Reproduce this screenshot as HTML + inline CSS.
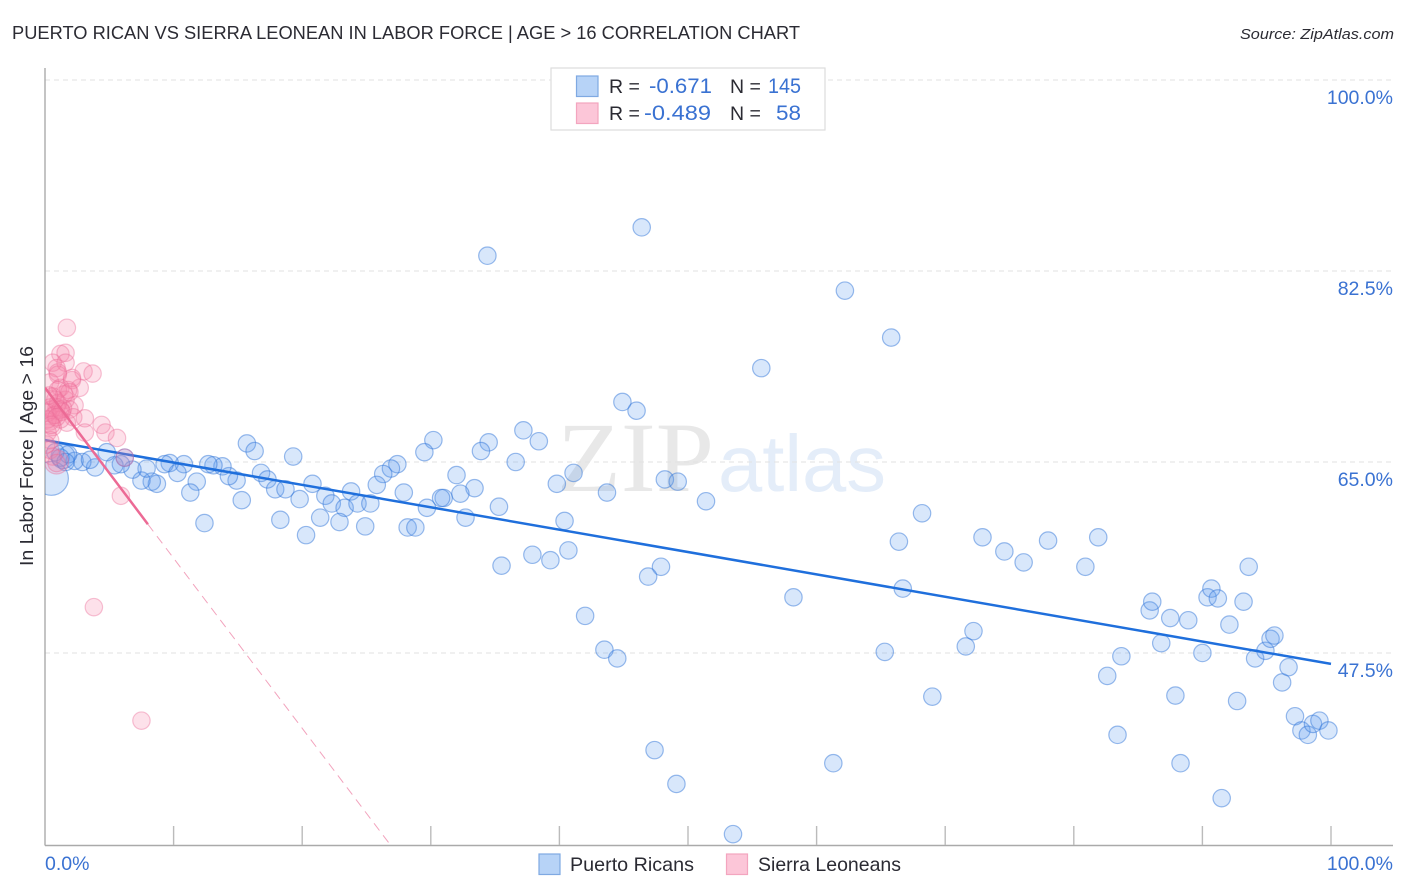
<!DOCTYPE html>
<html lang="en">
<head>
<meta charset="utf-8">
<title>Puerto Rican vs Sierra Leonean in Labor Force | Age > 16 Correlation Chart</title>
<style>
html,body{margin:0;padding:0;background:#fff;}
svg{display:block;font-family:"Liberation Sans",sans-serif;}
</style>
</head>
<body>
<svg id="chart" xmlns="http://www.w3.org/2000/svg" width="1406" height="892" viewBox="0 0 1406 892">
  <defs><clipPath id="plot-clip"><rect x="45" y="68" width="1348" height="777"></rect></clipPath></defs>
  <rect x="0" y="0" width="1406" height="892" fill="#ffffff"></rect>
  <text x="12" y="39" font-size="18.5" fill="#2b2b33" textLength="788" lengthAdjust="spacingAndGlyphs">PUERTO RICAN VS SIERRA LEONEAN IN LABOR FORCE | AGE &gt; 16 CORRELATION CHART</text>
  <text x="1394" y="39" font-size="15" font-style="italic" text-anchor="end" fill="#2b2b33" textLength="154" lengthAdjust="spacingAndGlyphs">Source: ZipAtlas.com</text>
  <g>
    <text x="557" y="491" font-family="'Liberation Serif',serif" font-size="100" fill="#e8e8e8" textLength="157" lengthAdjust="spacingAndGlyphs">ZIP</text>
    <text x="718" y="491" font-size="80" fill="#e4edf9" textLength="168" lengthAdjust="spacingAndGlyphs">atlas</text>
  </g>
  <g id="grid"></g>
  <g id="axes"></g>
  <g id="marks" clip-path="url(#plot-clip)"></g>
  <g id="labels"></g>
  <text transform="translate(33,566) rotate(-90)" font-size="18.5" fill="#2b2b33" textLength="220" lengthAdjust="spacingAndGlyphs">In Labor Force | Age &gt; 16</text>
  <g>
    <rect x="551" y="68" width="274" height="62" fill="#ffffff" stroke="#dddddd" stroke-width="1.2"></rect>
    <rect x="576.5" y="76" width="21.5" height="20.5" fill="#b7d3f7" stroke="#7fa9e2" stroke-width="1.2"></rect>
    <rect x="576.5" y="103" width="21.5" height="20.5" fill="#fcc6d8" stroke="#f3a5bf" stroke-width="1.2"></rect>
    <text x="609" y="93" font-size="19.5" fill="#2b2b33">R =</text>
    <text x="712" y="93" font-size="21" fill="#3a72d2" text-anchor="end" textLength="63" lengthAdjust="spacingAndGlyphs">-0.671</text>
    <text x="730" y="93" font-size="19.5" fill="#2b2b33">N =</text>
    <text x="801" y="93" font-size="21" fill="#3a72d2" text-anchor="end" textLength="33" lengthAdjust="spacingAndGlyphs">145</text>
    <text x="609" y="120" font-size="19.5" fill="#2b2b33">R =</text>
    <text x="711" y="120" font-size="21" fill="#3a72d2" text-anchor="end" textLength="67" lengthAdjust="spacingAndGlyphs">-0.489</text>
    <text x="730" y="120" font-size="19.5" fill="#2b2b33">N =</text>
    <text x="801" y="120" font-size="21" fill="#3a72d2" text-anchor="end" textLength="25" lengthAdjust="spacingAndGlyphs">58</text>
  </g>
  <g>
    <rect x="539" y="854" width="21" height="20.5" fill="#b7d3f7" stroke="#7fa9e2" stroke-width="1.2"></rect>
    <text x="570" y="871" font-size="19.5" fill="#2b2b33" textLength="124" lengthAdjust="spacingAndGlyphs">Puerto Ricans</text>
    <rect x="726.5" y="854" width="21" height="20.5" fill="#fcc6d8" stroke="#f3a5bf" stroke-width="1.2"></rect>
    <text x="758" y="871" font-size="19.5" fill="#2b2b33" textLength="143" lengthAdjust="spacingAndGlyphs">Sierra Leoneans</text>
  </g>
</svg>
<script>
const xTickValues = [0,10,20,30,40,50,60,70,80,90,100];
const yGridValues = [100,82.5,65,47.5];
const yTickLabels = ['100.0%','82.5%','65.0%','47.5%'];
const xEndLabels = ['0.0%','100.0%'];

const puertoX = [46.4,34.4,62.2,65.8,55.7,44.9,46.0,37.2,38.4,30.2,34.5,33.9,29.5,15.7,16.3,19.3,36.6,27.4,26.9,26.3,32.0,41.1,39.8,48.2,49.2,43.7,51.4,33.4,32.3,31.0,30.8,29.7,35.3,32.7,27.9,25.8,23.8,21.8,20.8,19.8,22.3,23.3,24.3,25.3,21.4,22.9,24.9,18.3,20.3,28.2,28.8,16.8,17.3,17.9,18.7,14.9,14.3,13.8,13.1,12.7,10.8,9.7,9.3,11.8,11.3,15.3,12.4,10.3,8.7,8.3,7.5,7.9,6.8,5.9,5.4,3.9,2.9,2.3,4.8,6.2,3.5,1.8,1.2,0.8,1.6,40.4,40.7,37.9,39.3,35.5,47.9,46.9,42.0,43.5,44.5,47.4,49.1,53.5,58.2,61.3,65.3,66.4,66.7,68.2,69.0,71.6,72.2,72.9,74.6,76.1,78.0,80.9,81.9,82.6,83.4,83.7,85.9,86.1,86.8,87.5,87.9,88.3,88.9,90.0,90.4,90.7,91.2,91.5,92.1,92.7,93.2,93.6,94.1,94.9,95.3,95.6,96.2,96.7,97.2,97.7,98.2,98.6,99.1,99.8];
const puertoY = [86.5,83.9,80.7,76.4,73.6,70.5,69.7,67.9,66.9,67.0,66.8,66.0,65.9,66.7,66.0,65.5,65.0,64.8,64.4,63.9,63.8,64.0,63.0,63.4,63.2,62.2,61.4,62.6,62.1,61.7,61.7,60.8,60.9,59.9,62.2,62.9,62.3,61.9,63.0,61.6,61.2,60.8,61.2,61.2,59.9,59.5,59.1,59.7,58.3,59.0,59.0,64.0,63.4,62.5,62.5,63.3,63.7,64.6,64.7,64.8,64.8,64.9,64.8,63.2,62.2,61.5,59.4,64.0,63.0,63.2,63.3,64.4,64.3,64.8,64.7,64.5,65.0,65.1,65.9,65.4,65.2,65.7,65.4,65.9,65.0,59.6,56.9,56.5,56.0,55.5,55.4,54.5,50.9,47.8,47.0,38.6,35.5,30.9,52.6,37.4,47.6,57.7,53.4,60.3,43.5,48.1,49.5,58.1,56.8,55.8,57.8,55.4,58.1,45.4,40.0,47.2,51.4,52.2,48.4,50.7,43.6,37.4,50.5,47.5,52.6,53.4,52.5,34.2,50.1,43.1,52.2,55.4,47.0,47.7,48.8,49.1,44.8,46.2,41.7,40.4,40.0,41.0,41.3,40.4];
const puertoLargeX = [0.5,1.4];
const puertoLargeY = [63.5,65.5];
const puertoLargeWeight = [3.8,1.9];

const sierraX = [1.7,1.2,1.6,0.6,1.6,0.9,3.0,3.7,1.0,0.4,2.7,2.1,1.8,1.2,0.6,2.3,1.6,1.0,0.4,0.8,1.9,1.4,2.2,3.1,4.4,4.7,5.6,3.1,1.7,0.4,1.2,0.2,0.6,0.2,0.4,0.6,0.9,6.2,5.9,3.8,7.5,0.9,0.5,0.7,1.2,0.2,0.4,1.3,1.0,2.1,1.9,1.5,0.9,0.8,0.3,0.5,0.1,1.0];
const sierraY = [77.3,74.9,75.0,74.1,74.1,73.6,73.3,73.1,73.0,72.3,71.8,72.5,71.6,71.8,71.0,70.2,70.7,70.4,70.0,69.3,69.8,69.9,69.1,69.0,68.4,67.7,67.2,67.7,68.6,68.7,68.9,69.5,68.2,67.7,66.1,65.5,64.9,65.4,61.9,51.7,41.3,70.0,69.8,69.3,69.8,68.9,67.0,69.6,71.6,72.7,71.4,71.2,69.1,70.7,71.1,68.4,66.6,73.2];
const sierraLargeX = [0.9];
const sierraLargeY = [65.0];
const sierraLargeWeight = [1.9];

const puertoTrendX = [0,100];
const puertoTrendY = [67.0,46.5];
const sierraSolidX = [0,8.0];
const sierraSolidY = [71.8,59.3];
const sierraDashX = [8.0,26.8];
const sierraDashY = [59.3,30.0];

const SVGNS = 'http://www.w3.org/2000/svg';
const xScale = v => 45 + v * 12.86;
const yScale = v => 80 + (100 - v) * 10.914;
const BASE_R = 8.7;
const marks = document.getElementById('marks');
const grid = document.getElementById('grid');
const axes = document.getElementById('axes');
const labels = document.getElementById('labels');

function make(tag, attrs, parent){
  const el = document.createElementNS(SVGNS, tag);
  Object.keys(attrs).forEach(k => el.setAttribute(k, attrs[k]));
  parent.appendChild(el);
  return el;
}

yGridValues.forEach(v => {
  const line = make('line', {x1:45, x2:1393, y1:yScale(v), y2:yScale(v), stroke:'#e2e2e2', 'stroke-width':1, 'stroke-dasharray':'5 4'}, grid);
  
  
});

const yAxisLine = make('line', {x1:45, x2:45, y1:68, y2:845.5, stroke:'#aaaaaa', 'stroke-width':1.4}, axes);


const xAxisLine = make('line', {x1:45, x2:1393, y1:845.5, y2:845.5, stroke:'#aaaaaa', 'stroke-width':1.4}, axes);


xTickValues.slice(1).forEach(v => {
  const tick = make('line', {x1:xScale(v), x2:xScale(v), y1:826, y2:845, stroke:'#bbbbbb', 'stroke-width':1.4}, axes);
  
  
});

function drawDots(xs, ys, weights, fill, stroke, name){
  xs.forEach((x, i) => {
    const w = weights ? weights[i] : 1;
    const dot = make('circle', {cx:xScale(x), cy:yScale(ys[i]), r:BASE_R * Math.sqrt(w), fill:fill, stroke:stroke, 'stroke-width':1.2}, marks);
    
    
  });
}
const blueFill = 'rgba(92,155,238,0.24)';
const blueStroke = 'rgba(45,115,215,0.48)';
const pinkFill = 'rgba(245,130,168,0.24)';
const pinkStroke = 'rgba(236,105,150,0.4)';
drawDots(puertoLargeX, puertoLargeY, puertoLargeWeight, blueFill, blueStroke, 'puerto-rican-point');
drawDots(puertoX, puertoY, null, blueFill, blueStroke, 'puerto-rican-point');

const puertoTrend = make('line', {x1:xScale(puertoTrendX[0]), y1:yScale(puertoTrendY[0]), x2:xScale(puertoTrendX[1]), y2:yScale(puertoTrendY[1]), stroke:'#1f6fdc', 'stroke-width':2.5}, marks);



drawDots(sierraLargeX, sierraLargeY, sierraLargeWeight, pinkFill, pinkStroke, 'sierra-leonean-point');
drawDots(sierraX, sierraY, null, pinkFill, pinkStroke, 'sierra-leonean-point');

const sierraTrend = make('line', {x1:xScale(sierraSolidX[0]), y1:yScale(sierraSolidY[0]), x2:xScale(sierraSolidX[1]), y2:yScale(sierraSolidY[1]), stroke:'#ec6a95', 'stroke-width':2.5}, marks);


const sierraDash = make('line', {x1:xScale(sierraDashX[0]), y1:yScale(sierraDashY[0]), x2:xScale(sierraDashX[1]), y2:yScale(sierraDashY[1]), stroke:'#f2a3bd', 'stroke-width':1, 'stroke-dasharray':'9 6'}, marks);



yTickLabels.forEach((t, i) => {
  const label = make('text', {x:1393, y:yScale(yGridValues[i]) + 24, 'font-size':19.5, fill:'#3a72d2', 'text-anchor':'end'}, labels);
  label.textContent = t;
  
  
});
const xLabelLeft = make('text', {x:45, y:870, 'font-size':19.5, fill:'#3a72d2'}, labels);
xLabelLeft.textContent = xEndLabels[0];


const xLabelRight = make('text', {x:1393, y:870, 'font-size':19.5, fill:'#3a72d2', 'text-anchor':'end'}, labels);
xLabelRight.textContent = xEndLabels[1];


</script>
</body>
</html>
